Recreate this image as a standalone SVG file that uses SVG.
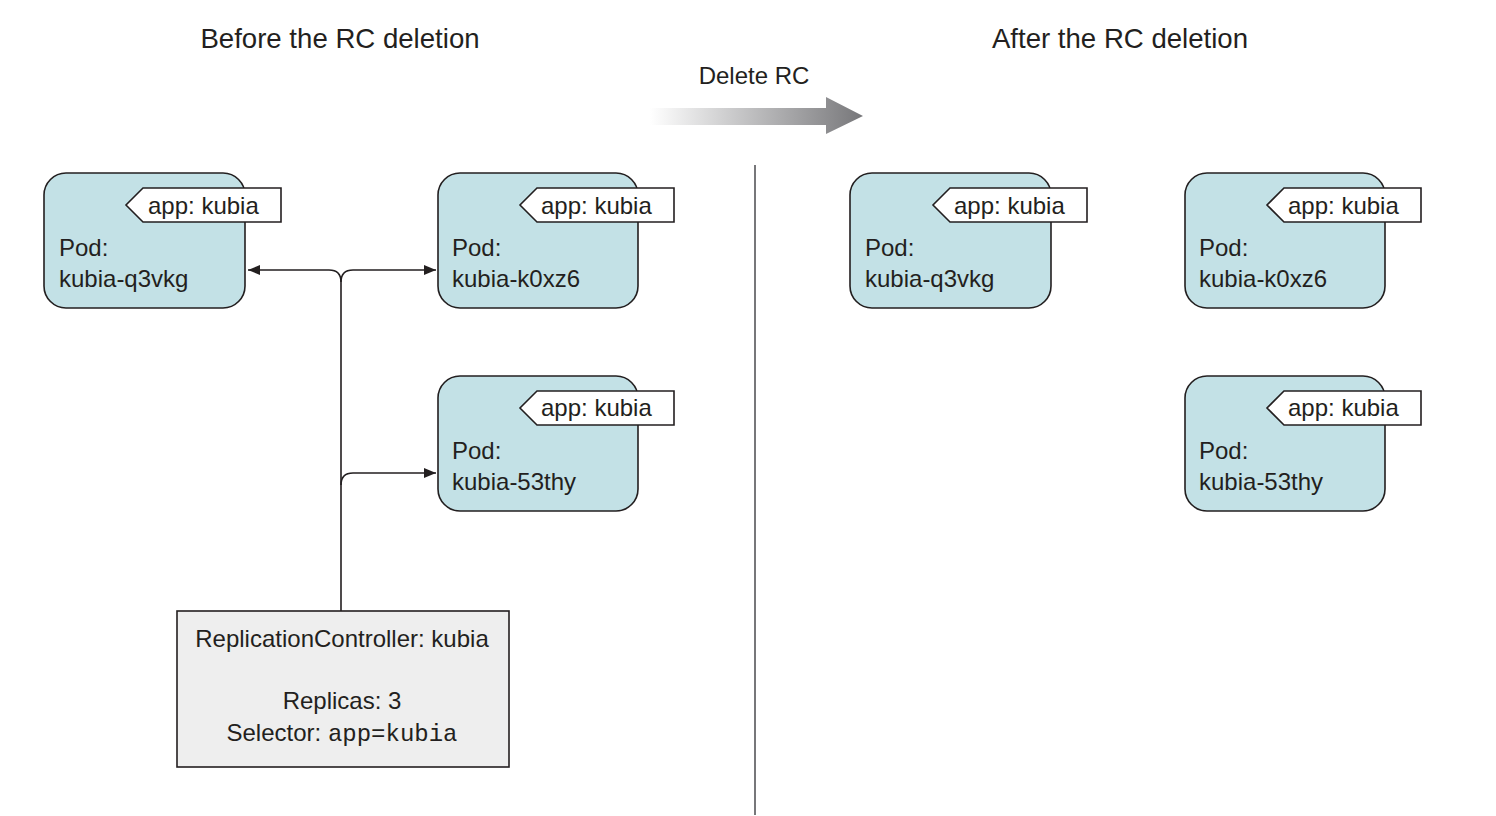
<svg xmlns="http://www.w3.org/2000/svg" width="1496" height="816" viewBox="0 0 1496 816">
<style>
.t{font-family:"Liberation Sans",Arial,sans-serif;fill:#231f20}
.pod{fill:#c3e1e6;stroke:#231f20;stroke-width:1.6}
.tag{fill:#ffffff;stroke:#231f20;stroke-width:1.6}
.pt{font-size:24px}
.ln{fill:none;stroke:#231f20;stroke-width:1.6}
</style>
<defs>
<marker id="ah" viewBox="0 0 12 10" refX="12" refY="5" markerWidth="12" markerHeight="10" markerUnits="userSpaceOnUse" orient="auto">
<path d="M0,0 L12,5 L0,10 Z" fill="#231f20"/>
</marker>
<linearGradient id="gr" x1="650" y1="0" x2="863" y2="0" gradientUnits="userSpaceOnUse">
<stop offset="0" stop-color="#ffffff"/>
<stop offset="1" stop-color="#77777a"/>
</linearGradient>
</defs>
<rect width="1496" height="816" fill="#ffffff"/>
<g id="titles">
<text class="t" x="340" y="48" font-size="27.6" text-anchor="middle">Before the RC deletion</text>
<text class="t" x="1120" y="48" font-size="27.6" text-anchor="middle">After the RC deletion</text>
</g>
<g id="delete-arrow">
<text class="t" x="754" y="84" font-size="24" text-anchor="middle">Delete RC</text>
<path d="M650,108 L826,108 L826,97 L863,116 L826,134 L826,125 L650,125 Z" fill="url(#gr)"/>
</g>
<line id="divider" x1="755" y1="165" x2="755" y2="815" stroke="#77777a" stroke-width="2"/>
<g id="connectors">
<path class="ln" d="M341,611 L341,282 Q341,270 329,270 L248,270" marker-end="url(#ah)"/>
<path class="ln" d="M341,282 Q341,270 353,270 L436,270" marker-end="url(#ah)"/>
<path class="ln" d="M341,485 Q341,473 353,473 L436,473" marker-end="url(#ah)"/>
</g>
<g id="pod-q3vkg-before">
<rect class="pod" x="44" y="173" width="201" height="135" rx="22"/>
<path class="tag" d="M143,188 L281,188 L281,222 L143,222 L126,205 Z"/>
<text class="t pt" x="148" y="214">app: kubia</text>
<text class="t pt" x="59" y="256">Pod:</text>
<text class="t pt" x="59" y="287">kubia-q3vkg</text>
</g>
<g id="pod-k0xz6-before">
<rect class="pod" x="438" y="173" width="200" height="135" rx="22"/>
<path class="tag" d="M537,188 L674,188 L674,222 L537,222 L520,205 Z"/>
<text class="t pt" x="541" y="214">app: kubia</text>
<text class="t pt" x="452" y="256">Pod:</text>
<text class="t pt" x="452" y="287">kubia-k0xz6</text>
</g>
<g id="pod-53thy-before">
<rect class="pod" x="438" y="376" width="200" height="135" rx="22"/>
<path class="tag" d="M537,391 L674,391 L674,425 L537,425 L520,408 Z"/>
<text class="t pt" x="541" y="416">app: kubia</text>
<text class="t pt" x="452" y="459">Pod:</text>
<text class="t pt" x="452" y="490">kubia-53thy</text>
</g>
<g id="rc">
<rect x="177" y="611" width="332" height="156" fill="#eeeeee" stroke="#231f20" stroke-width="1.6"/>
<text class="t pt" x="342" y="647" text-anchor="middle">ReplicationController: kubia</text>
<text class="t pt" x="342" y="709" text-anchor="middle">Replicas: 3</text>
<text class="t pt" x="342" y="741" text-anchor="middle">Selector: <tspan font-family="'Liberation Mono','Courier New',monospace">app=kubia</tspan></text>
</g>
<g id="pod-q3vkg-after">
<rect class="pod" x="850" y="173" width="201" height="135" rx="22"/>
<path class="tag" d="M950,188 L1087,188 L1087,222 L950,222 L933,205 Z"/>
<text class="t pt" x="954" y="214">app: kubia</text>
<text class="t pt" x="865" y="256">Pod:</text>
<text class="t pt" x="865" y="287">kubia-q3vkg</text>
</g>
<g id="pod-k0xz6-after">
<rect class="pod" x="1185" y="173" width="200" height="135" rx="22"/>
<path class="tag" d="M1284,188 L1421,188 L1421,222 L1284,222 L1267,205 Z"/>
<text class="t pt" x="1288" y="214">app: kubia</text>
<text class="t pt" x="1199" y="256">Pod:</text>
<text class="t pt" x="1199" y="287">kubia-k0xz6</text>
</g>
<g id="pod-53thy-after">
<rect class="pod" x="1185" y="376" width="200" height="135" rx="22"/>
<path class="tag" d="M1284,391 L1421,391 L1421,425 L1284,425 L1267,408 Z"/>
<text class="t pt" x="1288" y="416">app: kubia</text>
<text class="t pt" x="1199" y="459">Pod:</text>
<text class="t pt" x="1199" y="490">kubia-53thy</text>
</g>
</svg>
